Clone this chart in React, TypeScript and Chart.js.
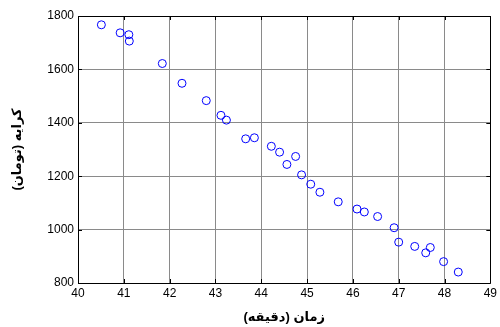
import React, { useEffect, useRef } from "react";
import { Chart, registerables } from "chart.js";

Chart.register(...registerables);

const timeMinutes = [
  40.51, 40.92, 41.11, 41.12, 41.84, 42.27, 42.8, 43.12, 43.24, 43.66,
  43.85, 44.22, 44.4, 44.56, 44.75, 44.88, 45.08, 45.28, 45.68, 46.09,
  46.25, 46.54, 46.9, 47.0, 47.35, 47.59, 47.69, 47.98, 48.3,
];
const fareToman = [
  1767, 1737, 1730, 1706, 1622, 1548, 1483, 1428, 1410, 1340,
  1344, 1312, 1290, 1244, 1274, 1205, 1170, 1140, 1104, 1077,
  1066, 1049, 1007, 953, 937, 913, 933, 880, 841,
];
const xTicks = [40, 41, 42, 43, 44, 45, 46, 47, 48, 49];
const yTicks = [800, 1000, 1200, 1400, 1600, 1800];
const xTitle = "زمان (دقیقه)";
const yTitle = "کرایه (تومان)";

const FONT = "'Liberation Sans', Arial, 'DejaVu Sans', sans-serif";

const boxPlugin = {
  id: "boxPlugin",
  afterDraw(chart: any) {
    const { ctx, chartArea } = chart;
    const { left, right, top, bottom } = chartArea;
    ctx.save();
    ctx.strokeStyle = "#000";
    ctx.lineWidth = 1;
    ctx.beginPath();
    ctx.rect(Math.round(left) + 0.5, Math.round(top) + 0.5, Math.round(right - left), Math.round(bottom - top));
    ctx.stroke();
    const xs = chart.scales.x;
    const ys = chart.scales.y;
    const tl = 4;
    ctx.beginPath();
    xTicks.forEach((v) => {
      const px = Math.round(xs.getPixelForValue(v)) + 0.5;
      ctx.moveTo(px, bottom);
      ctx.lineTo(px, bottom - tl);
      ctx.moveTo(px, top);
      ctx.lineTo(px, top + tl);
    });
    yTicks.forEach((v) => {
      const py = Math.round(ys.getPixelForValue(v)) + 0.5;
      ctx.moveTo(left, py);
      ctx.lineTo(left + tl, py);
      ctx.moveTo(right, py);
      ctx.lineTo(right - tl, py);
    });
    ctx.stroke();
    ctx.restore();
  },
};

export default function App() {
  const ref = useRef<HTMLCanvasElement | null>(null);
  useEffect(() => {
    if (!ref.current) return;
    const chart = new Chart(ref.current, {
      type: "scatter",
      data: {
        datasets: [
          {
            data: timeMinutes.map((x, i) => ({ x, y: fareToman[i] })),
            borderColor: "#0000ff",
            backgroundColor: "rgba(0,0,0,0)",
            borderWidth: 1,
            pointRadius: 4,
            pointStyle: "circle",
          },
        ],
      },
      options: {
        animation: false,
        responsive: false,
        maintainAspectRatio: false,
        layout: { padding: { left: 0, right: 8, top: 16, bottom: 0 } },
        plugins: { legend: { display: false }, tooltip: { enabled: false } },
        scales: {
          x: {
            type: "linear",
            min: 40,
            max: 49,
            afterBuildTicks: (s: any) => {
              s.ticks = xTicks.map((v) => ({ value: v }));
            },
            afterFit: (s: any) => {
              s.height = 44;
            },
            ticks: {
              color: "#000",
              font: { family: FONT, size: 12 },
              padding: 3,
              maxRotation: 0,
              callback: (v: any) => String(v),
            },
            grid: { color: "#8a8a8a", lineWidth: 1, drawTicks: false },
            border: { display: false },
            title: {
              display: true,
              text: xTitle,
              color: "#000",
              font: { family: FONT, size: 13, weight: "bold" },
              padding: { top: 0, bottom: 2 },
            },
          },
          y: {
            type: "linear",
            min: 800,
            max: 1800,
            afterBuildTicks: (s: any) => {
              s.ticks = yTicks.map((v) => ({ value: v }));
            },
            afterFit: (s: any) => {
              s.width = 78;
            },
            ticks: {
              color: "#000",
              font: { family: FONT, size: 12 },
              padding: 4,
              callback: (v: any) => String(v),
            },
            grid: { color: "#8a8a8a", lineWidth: 1, drawTicks: false },
            border: { display: false },
            title: {
              display: true,
              text: yTitle,
              color: "#000",
              font: { family: FONT, size: 13, weight: "bold" },
              padding: { top: 10, bottom: 0 },
            },
          },
        },
      },
      plugins: [boxPlugin],
    });
    return () => chart.destroy();
  }, []);
  return (
    <div style={{ position: "fixed", left: 0, top: 0, width: 500, height: 327, background: "#fff" }}>
      <canvas ref={ref} width={500} height={327} style={{ width: 500, height: 327, direction: "rtl" }} />
    </div>
  );
}
